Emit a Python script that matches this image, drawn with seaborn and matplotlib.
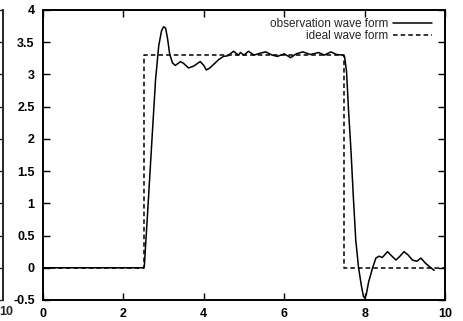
import matplotlib
matplotlib.use("Agg")
import matplotlib.pyplot as plt
import seaborn as sns
import pandas as pd

# ---- data ----
ideal_x = [0, 2.5, 2.5, 7.5, 7.5, 10]
ideal_y = [0, 0, 3.3, 3.3, 0, 0]

obs_x = [0, 2.5, 2.52, 2.6, 2.7, 2.8, 2.88, 2.95, 3.0, 3.05, 3.1, 3.15, 3.22,
         3.29, 3.36, 3.42, 3.5, 3.62, 3.75, 3.91, 4.0, 4.06, 4.15, 4.25, 4.37,
         4.49, 4.6, 4.74, 4.86, 4.91, 5.0, 5.11, 5.25, 5.4, 5.54, 5.7, 5.83,
         6.0, 6.16, 6.3, 6.46, 6.65, 6.86, 7.0, 7.16, 7.3, 7.45, 7.5, 7.55,
         7.6, 7.66, 7.72, 7.78, 7.85, 7.92, 7.97, 8.0, 8.04, 8.1, 8.2, 8.28,
         8.36, 8.44, 8.5, 8.57, 8.68, 8.78, 8.88, 8.98, 9.08, 9.19, 9.3, 9.4,
         9.5, 9.57, 9.65, 9.73]
obs_y = [0, 0, 0.02, 0.83, 1.88, 2.92, 3.45, 3.68, 3.74, 3.72, 3.55, 3.32, 3.18,
         3.14, 3.17, 3.20, 3.17, 3.10, 3.13, 3.20, 3.14, 3.07, 3.10, 3.16, 3.23,
         3.28, 3.29, 3.36, 3.30, 3.34, 3.30, 3.36, 3.30, 3.33, 3.35, 3.30, 3.28,
         3.32, 3.26, 3.32, 3.35, 3.31, 3.34, 3.30, 3.35, 3.31, 3.30, 3.28, 3.05,
         2.45, 1.83, 1.10, 0.43, 0.0, -0.28, -0.44, -0.47, -0.42, -0.22, 0.0, 0.15,
         0.18, 0.16, 0.20, 0.25, 0.18, 0.12, 0.18, 0.25, 0.20, 0.12, 0.10, 0.15,
         0.08, 0.04, 0.0, -0.04]

x_ticks = [0, 2, 4, 6, 8, 10]
y_ticks = [-0.5, 0, 0.5, 1, 1.5, 2, 2.5, 3, 3.5, 4]
y_tick_labels = ["-0.5", "0", "0.5", "1", "1.5", "2", "2.5", "3", "3.5", "4"]

obs = pd.DataFrame({"x": obs_x, "y": obs_y})
ideal = pd.DataFrame({"x": ideal_x, "y": ideal_y})

sns.set_style("ticks")
plt.rcParams["font.family"] = ["Liberation Sans", "DejaVu Sans"]

W, H = 464, 321
fig = plt.figure(figsize=(W / 100, H / 100), dpi=100)
ax = fig.add_axes([43 / W, 21 / H, (445 - 43) / W, (311 - 21) / H])

sns.lineplot(data=obs, x="x", y="y", ax=ax, sort=False, estimator=None,
             color="black", linewidth=1.1, label="observation wave form")
sns.lineplot(data=ideal, x="x", y="y", ax=ax, sort=False, estimator=None,
             color="black", linewidth=1.1, linestyle=(0, (3, 2)),
             label="ideal wave form")

ax.set_xlim(0, 10)
ax.set_ylim(-0.5, 4)
ax.set_xticks(x_ticks)
ax.set_xticklabels([str(t) for t in x_ticks], fontsize=9, fontweight="bold")
ax.set_yticks(y_ticks)
ax.set_yticklabels(y_tick_labels, fontsize=9, fontweight="bold")
ax.set_xlabel("")
ax.set_ylabel("")
ax.tick_params(direction="in", length=5, width=1.0, top=True, right=True,
               pad=6, colors="black")
for s in ax.spines.values():
    s.set_linewidth(1.4)
    s.set_color("black")

leg = ax.legend(loc="upper right", bbox_to_anchor=(1 - 13 / 402, 1 - 8 / 290),
                frameon=False, markerfirst=False, fontsize=8.5,
                handlelength=3.3, handletextpad=0.4, labelspacing=0.0,
                borderpad=0, borderaxespad=0)

# remnant of neighbouring panel on the left
ax2 = fig.add_axes([-0.5, 21 / H, 0.5 + 3 / W, (311 - 21) / H])
ax2.set_xlim(0, 10)
ax2.set_ylim(-0.5, 4)
for k in ["left", "top", "bottom"]:
    ax2.spines[k].set_visible(False)
ax2.spines["right"].set_linewidth(1.4)
ax2.set_xticks([])
ax2.yaxis.tick_right()
ax2.set_yticks(y_ticks)
ax2.set_yticklabels([])
ax2.tick_params(axis="y", direction="in", length=5, width=1.0)
ax2.patch.set_visible(False)
fig.text(6 / W, 1 - 312 / H, "10", ha="center", va="center",
         fontsize=9, fontweight="bold")

fig.savefig("out.png", dpi=100)
